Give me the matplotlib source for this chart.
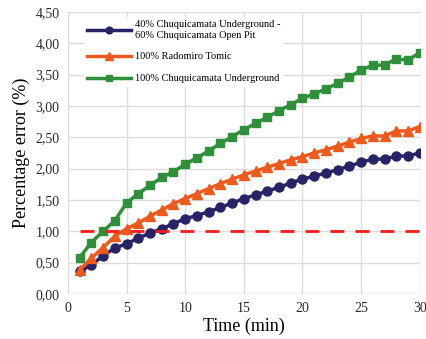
import matplotlib.pyplot as plt
from matplotlib.ticker import FuncFormatter

plt.rcParams['font.family'] = ['Liberation Serif', 'DejaVu Serif']

minutes = list(range(1, 31))

blend = [0.36, 0.46, 0.61, 0.73, 0.80, 0.89, 0.97, 1.04, 1.12, 1.20,
         1.25, 1.31, 1.38, 1.45, 1.52, 1.58, 1.64, 1.70, 1.77, 1.83,
         1.88, 1.93, 1.98, 2.04, 2.10, 2.15, 2.15, 2.20, 2.20, 2.25]
tomic = [0.38, 0.57, 0.74, 0.92, 1.04, 1.13, 1.24, 1.34, 1.44, 1.52,
         1.60, 1.68, 1.76, 1.83, 1.90, 1.96, 2.02, 2.08, 2.14, 2.19,
         2.25, 2.30, 2.36, 2.42, 2.48, 2.52, 2.52, 2.60, 2.60, 2.67]
underground = [0.58, 0.82, 1.00, 1.17, 1.45, 1.60, 1.73, 1.86, 1.95, 2.07,
               2.17, 2.28, 2.40, 2.51, 2.62, 2.72, 2.82, 2.92, 3.02, 3.12,
               3.19, 3.27, 3.36, 3.46, 3.57, 3.65, 3.65, 3.75, 3.73, 3.85]
limit = [1.0] * len(minutes)

labels = ['40% Chuquicamata Underground -\n60% Chuquicamata Open Pit',
          '100% Radomiro Tomic',
          '100% Chuquicamata Underground']

fig = plt.figure(figsize=(4.27, 3.39), dpi=100)
ax = fig.add_axes([0.159, 0.133, 0.824, 0.832])

ax.plot(minutes, blend, color='#262466', marker='o', markersize=6.5, lw=2.5, label=labels[0])
ax.plot(minutes, tomic, color='#ee5a1e', marker='^', markersize=7, lw=2.5, label=labels[1])
ax.plot(minutes, underground, color='#2f8f3a', marker='s', markersize=5.5, lw=2.5, label=labels[2])
ax.plot(minutes, limit, color='#ff1a1a', lw=2, dashes=(5, 4))

ax.set_xlim(0, 30)
ax.set_ylim(0, 4.5)
ax.set_xticks(range(0, 31, 5))
ax.set_yticks([i * 0.5 for i in range(10)])
ax.yaxis.set_major_formatter(FuncFormatter(lambda v, p: f'{v:.2f}'.replace('.', ',')))
ax.tick_params(length=0, labelsize=10, colors='#2a2a2a', pad=6)
ax.grid(color='#dcdcdc', lw=1)
ax.set_axisbelow(True)
for s in ax.spines.values():
    s.set_visible(False)

ax.set_xlabel('Time (min)', fontsize=13, labelpad=2)
ax.set_ylabel('Percentage error (%)', fontsize=13, labelpad=4)

leg = ax.legend(loc='upper left', bbox_to_anchor=(0.03, 1.0), fontsize=7.5,
                frameon=True, fancybox=False, edgecolor='white', framealpha=1,
                handlelength=4.2, handletextpad=0.4, markerscale=0.75,
                labelspacing=1.2, borderpad=0.3)

fig.savefig('out.png', dpi=100)
